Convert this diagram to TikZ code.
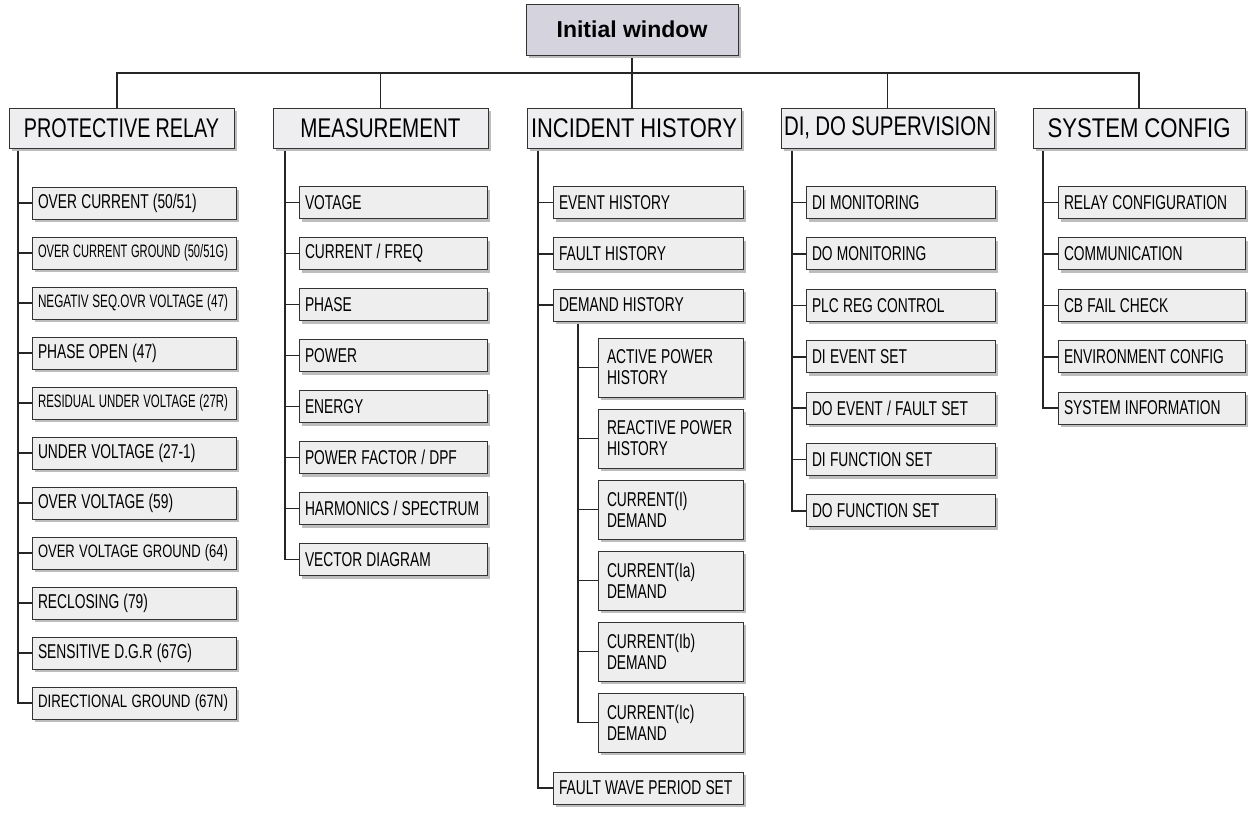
\documentclass[tikz,border=0pt]{standalone}
\usepackage{fontspec}
\setmainfont{Liberation Sans}
\newfontfamily\condfont{Liberation Sans}[FakeStretch=0.69]
\usetikzlibrary{shadows,backgrounds}
\definecolor{topfill}{HTML}{D5D3DE}
\definecolor{boxfill}{HTML}{EEEEEE}
\definecolor{lfill}{HTML}{EEEEF0}
\definecolor{edge}{HTML}{333333}
\definecolor{shade}{HTML}{BDBDBD}
\hyphenpenalty=10000
\exhyphenpenalty=10000
\newcommand\lvlfont{\fontsize{27}{30}\selectfont\spaceskip=7pt\relax}
\newcommand\leaffont{\condfont\fontsize{20}{21}\selectfont}
\newcommand\tightsp{\spaceskip=4.2pt\relax\xspaceskip=4.2pt\relax}
\newcommand\fitw[2]{\resizebox{#1}{\height}{#2}}
\newcommand\smallfit[1]{\resizebox{190pt}{\height}{\fontsize{18}{20}\selectfont\spaceskip=4pt\relax #1}}
\tikzset{
 shad/.style={drop shadow={shadow xshift=3pt,shadow yshift=-3pt,fill=shade,opacity=1}},
 topbox/.style={draw=edge,line width=1pt,fill=topfill,shad,minimum width=212pt,minimum height=51pt,inner sep=0pt,font=\bfseries\fontsize{23}{26}\selectfont},
 lvl/.style={draw=edge,line width=1pt,fill=lfill,shad,minimum height=40pt,inner sep=0pt,font=\lvlfont},
 leaf/.style={draw=edge,line width=0.9pt,fill=boxfill,shad,minimum height=32pt,inner xsep=6pt,inner ysep=0pt,align=left,font=\leaffont,execute at begin node=\tightsp},
 prleaf/.style={leaf,text width=192pt},
 meleaf/.style={leaf,text width=176pt},
 ihleaf/.style={leaf,text width=178pt},
 dileaf/.style={leaf,text width=177pt},
 scleaf/.style={leaf,text width=175pt},
 subleaf/.style={leaf,minimum height=59pt,inner xsep=9pt,text width=127pt},
 conn/.style={line width=1.6pt,draw=black!85},
}
\begin{document}
\begin{tikzpicture}[x=1pt,y=-1pt]
\useasboundingbox (0,0) rectangle (1249,820);
% root
\node[topbox] (top) at (632,29.5) {Initial window};
% level 1
\node[lvl,minimum width=225pt] (pr) at (121.5,128) {\fitw{195pt}{PROTECTIVE RELAY}};
\node[lvl,minimum width=215pt] (me) at (380.5,128) {\fitw{160pt}{MEASUREMENT}};
\node[lvl,minimum width=214pt] (ih) at (634,128) {\fitw{206pt}{INCIDENT HISTORY}};
\node[lvl,minimum width=213pt] (di) at (887.5,128) {\fitw{207pt}{DI, DO SUPERVISION}};
\node[lvl,minimum width=212pt] (sc) at (1139,128) {\fitw{183pt}{SYSTEM CONFIG}};
% protective relay
\node[prleaf] (pr1) at (134,203) {OVER CURRENT (50/51)};
\node[prleaf] (pr2) at (134,253) {\smallfit{OVER CURRENT GROUND (50/51G)}};
\node[prleaf] (pr3) at (134,303) {\smallfit{NEGATIV SEQ.OVR VOLTAGE (47)}};
\node[prleaf] (pr4) at (134,353) {PHASE OPEN (47)};
\node[prleaf] (pr5) at (134,403) {\smallfit{RESIDUAL UNDER VOLTAGE (27R)}};
\node[prleaf] (pr6) at (134,453) {UNDER VOLTAGE (27-1)};
\node[prleaf] (pr7) at (134,503) {OVER VOLTAGE (59)};
\node[prleaf] (pr8) at (134,553) {\smallfit{OVER VOLTAGE GROUND (64)}};
\node[prleaf] (pr9) at (134,603) {RECLOSING (79)};
\node[prleaf] (pr10) at (134,653) {SENSITIVE D.G.R (67G)};
\node[prleaf] (pr11) at (134,703) {\smallfit{DIRECTIONAL GROUND (67N)}};
% measurement
\node[meleaf] (me1) at (393,202.5) {VOTAGE};
\node[meleaf] (me2) at (393,253.5) {CURRENT / FREQ};
\node[meleaf] (me3) at (393,304.5) {PHASE};
\node[meleaf] (me4) at (393,355.5) {POWER};
\node[meleaf] (me5) at (393,406.5) {ENERGY};
\node[meleaf] (me6) at (393,457.5) {POWER FACTOR / DPF};
\node[meleaf] (me7) at (393,508.5) {\mbox{HARMONICS / SPECTRUM}};
\node[meleaf] (me8) at (393,559.5) {VECTOR DIAGRAM};
% incident history
\node[ihleaf] (ih1) at (648,202.5) {EVENT HISTORY};
\node[ihleaf] (ih2) at (648,253.8) {FAULT HISTORY};
\node[ihleaf] (ih3) at (648,305) {DEMAND HISTORY};
\node[subleaf] (d1) at (670.5,367.5) {ACTIVE POWER\\HISTORY};
\node[subleaf] (d2) at (670.5,438.5) {\mbox{REACTIVE POWER}\\HISTORY};
\node[subleaf] (d3) at (670.5,509.5) {CURRENT(I)\\DEMAND};
\node[subleaf] (d4) at (670.5,580.5) {CURRENT(Ia)\\DEMAND};
\node[subleaf] (d5) at (670.5,651.5) {CURRENT(Ib)\\DEMAND};
\node[subleaf] (d6) at (670.5,722.5) {CURRENT(Ic)\\DEMAND};
\node[ihleaf] (ih4) at (648,788) {\mbox{FAULT WAVE PERIOD SET}};
% di do supervision
\node[dileaf] (di1) at (900.5,202.5) {DI MONITORING};
\node[dileaf] (di2) at (900.5,253.9) {DO MONITORING};
\node[dileaf] (di3) at (900.5,305.3) {PLC REG CONTROL};
\node[dileaf] (di4) at (900.5,356.7) {DI EVENT SET};
\node[dileaf] (di5) at (900.5,408.1) {DO EVENT / FAULT SET};
\node[dileaf] (di6) at (900.5,459.5) {DI FUNCTION SET};
\node[dileaf] (di7) at (900.5,510.9) {DO FUNCTION SET};
% system config
\node[scleaf] (sc1) at (1151.5,202.5) {RELAY CONFIGURATION};
\node[scleaf] (sc2) at (1151.5,253.9) {COMMUNICATION};
\node[scleaf] (sc3) at (1151.5,305.3) {CB FAIL CHECK};
\node[scleaf] (sc4) at (1151.5,356.7) {ENVIRONMENT CONFIG};
\node[scleaf] (sc5) at (1151.5,408.1) {SYSTEM INFORMATION};
% connectors
\begin{scope}[on background layer]
\coordinate (busL) at (117,73);
\coordinate (busR) at (1139,73);
\draw[conn] (busL |- pr.north) -- (busL) -- (busR) -- (busR |- sc.north);
\draw[conn] (me.north) -- (me.north |- busL);
\draw[conn] (di.north) -- (di.north |- busL);
\draw[conn] (top.south) -- (top.south |- ih.north);
\coordinate (prT) at (18,0);
\draw[conn] (prT |- pr.south) |- (pr11.west);
\foreach \i in {1,...,10} \draw[conn] (prT |- pr\i.west) -- (pr\i.west);
\coordinate (meT) at (285,0);
\draw[conn] (meT |- me.south) |- (me8.west);
\foreach \i in {1,...,7} \draw[conn] (meT |- me\i.west) -- (me\i.west);
\coordinate (ihT) at (538,0);
\draw[conn] (ihT |- ih.south) |- (ih4.west);
\foreach \i in {1,2,3} \draw[conn] (ihT |- ih\i.west) -- (ih\i.west);
\coordinate (dT) at (578,0);
\draw[conn] (dT |- ih3.south) |- (d6.west);
\foreach \i in {1,...,5} \draw[conn] (dT |- d\i.west) -- (d\i.west);
\coordinate (diT) at (792,0);
\draw[conn] (diT |- di.south) |- (di7.west);
\foreach \i in {1,...,6} \draw[conn] (diT |- di\i.west) -- (di\i.west);
\coordinate (scT) at (1043,0);
\draw[conn] (scT |- sc.south) |- (sc5.west);
\foreach \i in {1,...,4} \draw[conn] (scT |- sc\i.west) -- (sc\i.west);
\end{scope}
\end{tikzpicture}
\end{document}
